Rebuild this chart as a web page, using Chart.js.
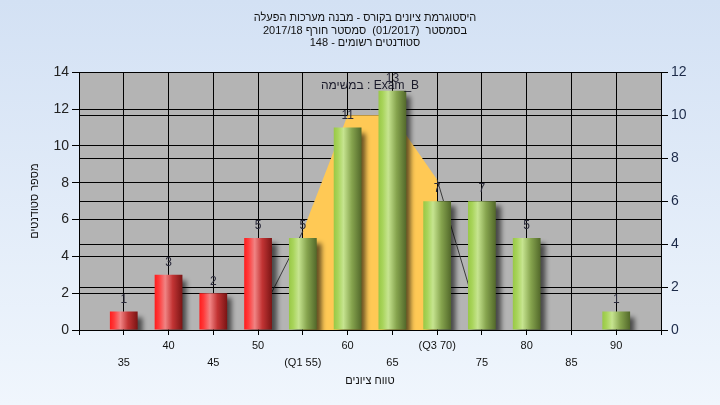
<!DOCTYPE html>
<html>
<head>
<meta charset="utf-8">
<script src="https://cdn.jsdelivr.net/npm/chart.js@4/dist/chart.umd.min.js"></script>
<style>
html, body { margin: 0; padding: 0; }
#wrap { width: 720px; height: 405px; background: linear-gradient(#d3e1f4, #f0f6fd); }
</style>
</head>
<body>
<div id="wrap"><canvas id="histChart" width="720" height="405"></canvas></div>
<script>
// histogram values
var scores = [35, 40, 45, 50, 55, 60, 65, 70, 75, 80, 85, 90];
var counts = [1, 3, 2, 5, 5, 11, 13, 7, 7, 5, 0, 1];
var xLabels = ['35', '40', '45', '50', '(Q1 55)', '60', '65', '(Q3 70)', '75', '80', '85', '90'];
var passMark = 55;
var q1 = 55;
var q3 = 70;

// distribution curve (right axis)
var curveX = [50, 55, 60, 65, 70, 75];
var curveY = [0.5, 4.6, 10, 10, 7, 0];

var titleLines = [
  'היסטוגרמת ציונים בקורס - מבנה מערכות הפעלה',
  'בסמסטר  (01/2017)  סמסטר חורף 2017/18',
  'סטודנטים רשומים - 148'
];
var examLabel = 'במשימה : Exam_B';

var fontFam = '"Liberation Sans", Arial, sans-serif';
var barPct = 0.62;

function pts(from, to) {
  var out = [];
  for (var i = 0; i < curveX.length; i++) {
    if (curveX[i] >= from && curveX[i] <= to) out.push({x: curveX[i], y: curveY[i]});
  }
  return out;
}

function barFill(context) {
  var chart = context.chart;
  var xs = chart.scales.x;
  var red = scores[context.dataIndex] < passMark;
  if (!chart.chartArea || !xs) return red ? '#e03030' : '#9cc850';
  var cx = xs.getPixelForValue(scores[context.dataIndex]);
  var half = (xs.getPixelForValue(35) - xs.getPixelForValue(30)) * barPct / 2;
  var g = chart.ctx.createLinearGradient(cx - half, 0, cx + half, 0);
  if (red) {
    g.addColorStop(0, '#ff1c1c');
    g.addColorStop(0.15, '#ff3a3a');
    g.addColorStop(0.38, '#f08484');
    g.addColorStop(0.65, '#c23434');
    g.addColorStop(1, '#7a1414');
  } else {
    g.addColorStop(0, '#98c846');
    g.addColorStop(0.15, '#a8d45a');
    g.addColorStop(0.35, '#c6e490');
    g.addColorStop(0.65, '#86a44e');
    g.addColorStop(1, '#52682a');
  }
  return g;
}

var plotBg = {
  id: 'plotBg',
  beforeDraw: function (chart) {
    var a = chart.chartArea, ctx = chart.ctx;
    ctx.save();
    ctx.fillStyle = '#b4b4b4';
    ctx.fillRect(a.left, a.top, a.right - a.left, a.bottom - a.top);
    ctx.restore();
  }
};

var barShadow = {
  id: 'barShadow',
  beforeDatasetDraw: function (chart, args) {
    if (args.meta.type !== 'bar') return;
    var ctx = chart.ctx;
    ctx.save();
    ctx.shadowColor = 'rgba(0,0,0,0.6)';
    ctx.shadowBlur = 5;
    ctx.shadowOffsetX = 5;
    ctx.shadowOffsetY = 5;
  },
  afterDatasetDraw: function (chart, args) {
    if (args.meta.type !== 'bar') return;
    chart.ctx.restore();
  }
};

var labels = {
  id: 'labels',
  afterDatasetsDraw: function (chart) {
    var ctx = chart.ctx;
    var meta = chart.getDatasetMeta(0);
    ctx.save();
    ctx.font = '12px ' + fontFam;
    ctx.fillStyle = '#2a2a3a';
    ctx.textAlign = 'center';
    ctx.textBaseline = 'middle';
    meta.data.forEach(function (bar, i) {
      if (counts[i] > 0) ctx.fillText(String(counts[i]), bar.x, bar.y - 12);
    });
    var a = chart.chartArea;
    ctx.fillStyle = '#1a1a2a';
    ctx.fillText(examLabel, (a.left + a.right) / 2, a.top + 13);
    ctx.restore();
  }
};

new Chart(document.getElementById('histChart'), {
  type: 'bar',
  data: {
    datasets: [{
      type: 'bar',
      data: scores.map(function (s, i) { return {x: s, y: counts[i]}; }),
      backgroundColor: barFill,
      borderWidth: 0,
      barPercentage: barPct,
      categoryPercentage: 1,
      yAxisID: 'y',
      order: 0
    }, {
      type: 'line',
      data: pts(q1, q3),
      yAxisID: 'y2',
      borderWidth: 0,
      pointRadius: 0,
      fill: 'origin',
      backgroundColor: '#ffc955',
      order: 2
    }, {
      type: 'line',
      data: pts(-Infinity, q1),
      yAxisID: 'y2',
      borderColor: '#3a3a3a',
      borderWidth: 1,
      pointRadius: 0,
      fill: false,
      order: 1
    }, {
      type: 'line',
      data: pts(q3, Infinity),
      yAxisID: 'y2',
      borderColor: '#3a3a3a',
      borderWidth: 1,
      pointRadius: 0,
      fill: false,
      order: 1
    }]
  },
  options: {
    responsive: false,
    animation: false,
    layout: { padding: { left: 10, right: 0, top: 0, bottom: 0 } },
    plugins: {
      legend: { display: false },
      tooltip: { enabled: false },
      title: {
        display: true,
        text: titleLines,
        color: '#111',
        font: { family: fontFam, size: 11, weight: 'normal', lineHeight: 1.14 },
        padding: { top: 12, bottom: 22.7 }
      }
    },
    scales: {
      x: {
        type: 'linear',
        min: 30,
        max: 95,
        offset: false,
        ticks: {
          stepSize: 5,
          autoSkip: false,
          maxRotation: 0,
          color: '#111',
          padding: 2,
          font: { family: fontFam, size: 11, lineHeight: 1.55 },
          callback: function (v) {
            var i = scores.indexOf(v);
            if (i < 0) return '';
            return i % 2 === 0 ? ['', xLabels[i]] : xLabels[i];
          }
        },
        grid: { color: '#000', tickLength: 5, offset: false },
        border: { color: '#000', z: 1 },
        title: {
          display: true,
          text: 'טווח ציונים',
          color: '#111',
          font: { family: fontFam, size: 11 },
          padding: { top: 0, bottom: 17 }
        },
        afterFit: function (s) { s.height = 75; }
      },
      y: {
        position: 'left',
        min: 0,
        max: 14,
        ticks: { stepSize: 2, color: '#222', padding: 3, font: { family: fontFam, size: 14 } },
        grid: { color: '#000', tickLength: 7 },
        border: { color: '#000' },
        title: {
          display: true,
          text: 'מספר סטודנטים',
          color: '#111',
          font: { family: fontFam, size: 11 },
          padding: { top: 18, bottom: 0 }
        },
        afterFit: function (s) { s.width = 69; }
      },
      y2: {
        position: 'right',
        min: 0,
        max: 12,
        ticks: { stepSize: 2, color: '#1c2a48', padding: 3, font: { family: fontFam, size: 14 } },
        grid: { color: '#000', tickLength: 7 },
        border: { color: '#000' },
        afterFit: function (s) { s.width = 59; }
      }
    }
  },
  plugins: [plotBg, barShadow, labels]
});
</script>
</body>
</html>
